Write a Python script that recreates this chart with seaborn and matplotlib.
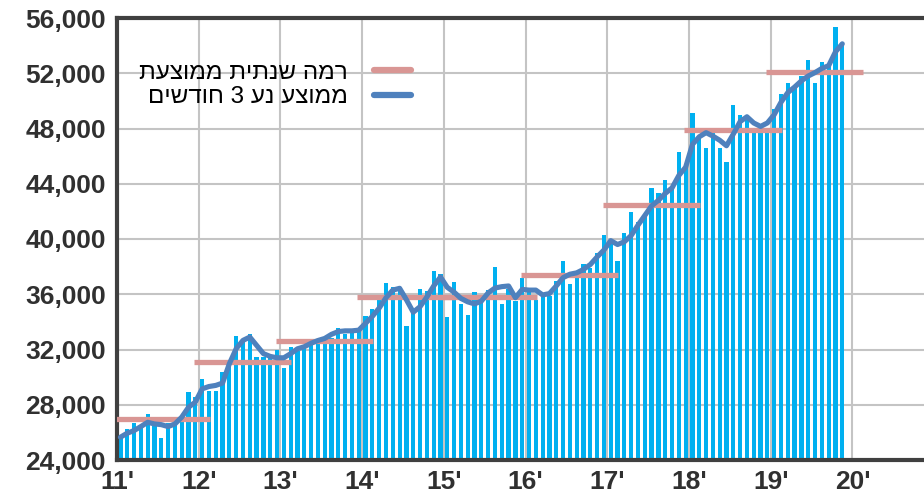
import numpy as np
import seaborn as sns
import matplotlib.pyplot as plt
from matplotlib.lines import Line2D

# year tick labels
years = ["11'", "12'", "13'", "14'", "15'", "16'", "17'", "18'", "19'", "20'"]

# monthly values (bars), Jan 2011 - Nov 2019
bars_2011 = [25600, 26250, 26650, 26500, 27300, 26600, 25600, 26650, 26600, 26850, 28950, 28550]
bars_2012 = [29900, 29000, 28960, 30370, 31100, 33000, 32670, 33100, 31480, 31480, 31480, 31940]
bars_2013 = [30650, 32180, 31900, 32100, 32400, 32500, 32600, 32800, 33550, 33100, 33200, 33500]
bars_2014 = [34450, 34900, 35600, 36780, 36500, 36300, 33700, 34800, 36400, 36250, 37700, 37480]
bars_2015 = [34380, 36900, 35320, 34500, 36170, 35500, 36300, 37940, 35330, 36400, 35480, 37210]
bars_2016 = [36300, 35560, 35880, 35900, 36970, 38400, 36730, 37600, 38180, 37900, 39000, 40290]
bars_2017 = [39880, 38430, 40420, 41930, 41200, 41800, 43700, 43300, 44300, 43800, 46300, 45200]
bars_2018 = [49100, 47400, 46600, 47800, 46600, 45550, 49700, 49000, 48800, 48000, 48300, 48000]
bars_2019 = [49400, 50500, 51300, 51000, 51800, 52970, 51320, 52800, 52500, 55330, 54170]

# 3-month moving average line
ma_2011 = [25650, 25940, 26130, 26420, 26730, 26610, 26560, 26420, 26610, 27100, 27820, 28190]
ma_2012 = [29150, 29320, 29400, 29570, 30970, 32060, 32660, 32900, 32300, 31700, 31500, 31400]
ma_2013 = [31400, 31700, 32050, 32200, 32450, 32650, 32800, 33100, 33300, 33350, 33350, 33400]
ma_2014 = [33900, 34400, 35000, 35750, 36300, 36430, 35600, 34700, 35100, 35800, 36600, 37250]
ma_2015 = [36500, 36150, 35700, 35450, 35300, 35500, 36100, 36450, 36550, 36600, 35750, 36350]
ma_2016 = [36300, 36300, 35950, 36050, 36600, 37200, 37450, 37550, 37800, 38150, 38700, 39200]
ma_2017 = [39880, 39600, 39800, 40250, 41000, 41700, 42400, 42800, 43300, 43700, 44600, 45200]
ma_2018 = [46850, 47400, 47700, 47450, 47150, 46750, 47600, 48500, 48850, 48400, 48150, 48400]
ma_2019 = [49000, 49900, 50600, 51000, 51450, 51800, 52050, 52350, 52550, 53550, 54130]

# average yearly level, 2011-2019
annual_level = [26950, 31100, 32630, 35800, 35830, 37420, 42450, 47890, 52070]

label_level = "רמה שנתית ממוצעת"
label_ma = "ממוצע נע 3 חודשים"

monthly = bars_2011 + bars_2012 + bars_2013 + bars_2014 + bars_2015 + bars_2016 + bars_2017 + bars_2018 + bars_2019
moving = ma_2011 + ma_2012 + ma_2013 + ma_2014 + ma_2015 + ma_2016 + ma_2017 + ma_2018 + ma_2019

sns.set_theme(style="whitegrid")
plt.rcParams['font.family'] = ['Liberation Sans', 'DejaVu Sans']

fig = plt.figure(figsize=(9.24, 4.92), dpi=100)
ax = fig.add_axes([117 / 924, 1 - 460 / 492, 1 - 117 / 924, (460 - 18) / 492])

pos = np.arange(len(monthly)) + 0.5
sns.barplot(x=pos, y=monthly, native_scale=True, color='#00B0F0', saturation=1,
            width=0.62, errorbar=None, linewidth=0, ax=ax, zorder=2)

for k, level in enumerate(annual_level):
    ax.hlines(level, 12 * k - 0.7, 12 * k + 13.6, color='#D99694', lw=3.8, zorder=3)

sns.lineplot(x=pos, y=moving, color='#4F81BD', lw=3.7, ax=ax, zorder=4)

ax.set_xlim(0, 118.5)
ax.set_ylim(24000, 56000)
ax.set_xticks(np.arange(0, 120, 12))
ax.set_xticklabels(years)
yt = np.arange(24000, 56001, 4000)
ax.set_yticks(yt)
ax.set_yticklabels([f"{v:,}" for v in yt])
ax.set_xlabel('')
ax.set_ylabel('')

ax.grid(True, color='#C4C4C4', lw=1.5)
ax.set_axisbelow(True)
ax.tick_params(axis='both', length=6, width=1.5, color='#404040', direction='out',
               labelsize=19, labelcolor='#303030', pad=2)
ax.tick_params(axis='x', pad=1)
for t in ax.get_xticklabels() + ax.get_yticklabels():
    t.set_fontweight('bold')

for side in ['left', 'bottom', 'top']:
    ax.spines[side].set_visible(True)
    ax.spines[side].set_color('#404040')
    ax.spines[side].set_linewidth(3)
ax.spines['right'].set_visible(False)

h1 = Line2D([], [], color='#D99694', lw=4.5)
h2 = Line2D([], [], color='#4F81BD', lw=4.5)
ax.legend([h1, h2], [label_level[::-1], label_ma[::-1]], loc='center right',
          bbox_to_anchor=(423 / 924, 1 - 85 / 492), bbox_transform=fig.transFigure,
          frameon=False, markerfirst=False, fontsize=17.5, handlelength=1.5,
          handletextpad=1.1, labelspacing=0.1, borderpad=0,
          labelcolor='#000000')

fig.savefig('out.png', dpi=100)
